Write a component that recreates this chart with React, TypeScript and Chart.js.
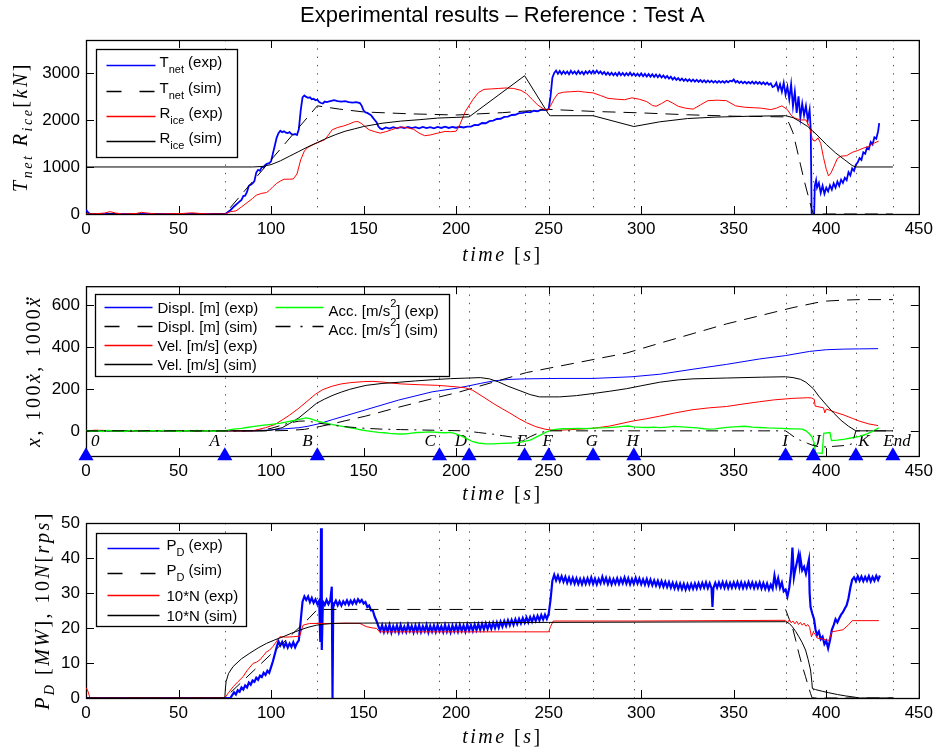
import React, { useEffect, useRef } from 'react';
import { Chart, registerables } from 'chart.js';
Chart.register(...registerables);

// ---------- shared ----------
const eventTimes = [0, 75, 125, 191, 207, 237, 250, 274, 296, 378, 393, 416, 436];
const eventNames = ['0', 'A', 'B', 'C', 'D', 'E', 'F', 'G', 'H', 'I', 'J', 'K', 'End'];
const eventLabelTimes = [5, 69.6, 119.7, 186, 202.5, 235.6, 249.5, 273.4, 295.3, 377.7, 395, 420.4, 438.2];
const eventLabelLevel = -51;
const markerLevel = -120;
const xTicks = [0, 50, 100, 150, 200, 250, 300, 350, 400, 450];
const yTicks1 = [0, 1000, 2000, 3000];
const yTicks2 = [0, 200, 400, 600];
const yTicks3 = [0, 10, 20, 30, 40, 50];

// ---------- panel 1 : T_net, R_ice [kN] ----------
const tnetExp = [
  [0, 90], [1, 40], [2, 5], [3, 0], [75, 0], [76, 20], [78, 80], [80, 160], [82, 230], [84, 300], [85, 380], [86, 390], [87, 470], [88, 600], [89, 620], [90, 650],
  [91, 700], [92, 880], [93, 940], [94, 920], [95, 1000], [96, 990], [97, 1050], [98, 1070], [99, 1080], [100, 1120], [101, 1290], [102, 1450], [103, 1620], [104, 1720],
  [105, 1770], [106, 1740], [107, 1760], [108, 1730], [109, 1720], [110, 1740], [111, 1700], [112, 1690], [113, 1700], [114, 1680], [115, 1800], [116, 2200], [117, 2480],
  [118, 2520], [119, 2490], [120, 2470], [121, 2480], [122, 2440], [123, 2450], [124, 2420], [125, 2430], [126, 2380], [127, 2360], [128, 2350], [129, 2390], [130, 2380],
  [132, 2400], [134, 2420], [136, 2400], [138, 2390], [140, 2400], [142, 2380], [144, 2370], [146, 2380], [148, 2360], [149, 2300], [150, 2200], [151, 2160], [152, 2150],
  [154, 2100], [155, 2050], [156, 2000], [157, 1950], [158, 1860], [159, 1820], [160, 1800], [162, 1840], [164, 1815], [166, 1845], [168, 1820], [170, 1845], [172, 1825],
  [174, 1850], [176, 1825], [178, 1845], [180, 1820], [182, 1850], [184, 1825], [186, 1845], [188, 1820], [190, 1850], [192, 1830], [194, 1855], [196, 1830], [198, 1850],
  [200, 1835], [202, 1855], [204, 1840], [206, 1860], [208, 1860], [210, 1895], [212, 1890], [214, 1935], [216, 1930], [218, 1975], [220, 1985], [222, 2020], [224, 2025],
  [226, 2065], [228, 2070], [230, 2105], [232, 2110], [234, 2145], [236, 2150], [238, 2170], [240, 2160], [242, 2195], [244, 2185], [246, 2220], [248, 2210], [250, 2230],
  [251, 2500], [252, 2900], [253, 3000], [254, 3050], [255, 2980], [256, 3040], [257, 2975], [258, 3035], [259, 2980], [260, 3030], [261, 2970], [262, 3045], [263, 2985],
  [264, 3030], [265, 2975], [266, 3040], [267, 2980], [268, 3025], [269, 2970], [270, 3035], [271, 2985], [272, 3040], [273, 2990], [274, 3045], [275, 2995], [276, 3050],
  [277, 2990], [278, 3030], [279, 2975], [280, 3020], [281, 2960], [282, 3010], [283, 2955], [284, 3005], [285, 2950], [286, 3000], [287, 2945], [288, 3010], [289, 2950],
  [290, 3000], [291, 2945], [292, 2995], [293, 2950], [294, 3005], [295, 2945], [296, 2990], [297, 2940], [298, 2985], [299, 2935], [300, 2990], [301, 2930], [302, 2980],
  [303, 2925], [304, 2975], [305, 2920], [306, 2970], [307, 2915], [308, 2965], [309, 2910], [310, 2960], [311, 2900], [312, 2945], [313, 2890], [314, 2935], [315, 2880],
  [316, 2920], [317, 2860], [318, 2905], [319, 2850], [320, 2890], [321, 2840], [322, 2880], [323, 2830], [324, 2870], [325, 2825], [326, 2865], [327, 2820], [328, 2860],
  [329, 2815], [330, 2855], [331, 2810], [332, 2850], [333, 2805], [334, 2845], [335, 2800], [336, 2840], [337, 2800], [338, 2835], [339, 2795], [340, 2830], [341, 2790],
  [342, 2830], [343, 2795], [344, 2825], [345, 2790], [346, 2830], [347, 2800], [348, 2835], [349, 2820], [350, 2860], [351, 2800], [352, 2830], [353, 2785], [354, 2820],
  [355, 2780], [356, 2815], [357, 2775], [358, 2810], [359, 2775], [360, 2815], [361, 2770], [362, 2810], [363, 2770], [364, 2805], [365, 2760], [366, 2800], [367, 2755],
  [368, 2795], [369, 2750], [370, 2780], [371, 2700], [372, 2720], [373, 2790], [374, 2640], [375, 2760], [376, 2600], [377, 2790], [378, 2540], [379, 2710], [380, 2440],
  [381, 2760], [382, 2290], [383, 2600], [384, 2150], [385, 2500], [386, 2050], [387, 2350], [388, 2100], [389, 2300], [390, 2000], [391, 2220], [391.6, 1800], [392.2, -400],
  [393.2, -400], [393.8, 600], [394.5, 720], [395, 560], [396, 660], [397, 450], [398, 600], [399, 430], [400, 560], [401, 480], [402, 610], [403, 520], [404, 650], [405, 560],
  [406, 690], [407, 600], [408, 730], [409, 660], [410, 770], [411, 720], [412, 890], [413, 820], [414, 970], [415, 920], [416, 1050], [417, 1100], [418, 1190], [419, 1150],
  [420, 1310], [421, 1280], [422, 1410], [423, 1380], [424, 1530], [425, 1480], [426, 1630], [427, 1600], [428, 1760], [428.6, 1930],
];
const tnetSim = [
  [0, 0], [75, 0], [125, 2300], [137, 2230], [150, 2170], [175, 2130], [200, 2105], [225, 2155], [250, 2225], [275, 2180], [300, 2150], [325, 2110], [350, 2080],
  [378, 2065], [380, 1920], [382, 1730], [384, 1400], [386, 1060], [388, 720], [390, 420], [392, 120], [393, 0], [436, 0],
];
const riceExp = [
  [0, 0], [5, 5], [10, 20], [13, 50], [16, 20], [20, 0], [27, 10], [30, 35], [33, 20], [38, 0], [45, 5], [52, 10], [57, 25], [62, 10], [68, 0], [75, 0], [78, 50], [81, 65],
  [84, 150], [87, 240], [90, 330], [92, 400], [95, 440], [97.5, 455], [99, 500], [101, 580], [103, 650], [105, 700], [107, 740], [110, 740], [112, 745], [114, 850],
  [116, 1150], [118, 1340], [120, 1420], [123, 1480], [126, 1530], [129, 1580], [131, 1680], [133, 1790], [136, 1840], [139, 1870], [142, 1910], [145, 1960], [147, 1965],
  [149, 1920], [151, 1850], [153, 1790], [156, 1750], [159, 1720], [162, 1750], [165, 1790], [168, 1830], [171, 1850], [174, 1830], [177, 1800], [180, 1720], [183, 1665],
  [186, 1680], [190, 1720], [194, 1755], [197, 1750], [200, 1760], [202, 1900], [205, 2180], [209, 2430], [212, 2580], [215, 2650], [219, 2660], [223, 2670], [227, 2680],
  [231, 2670], [235, 2630], [238, 2560], [241, 2440], [244, 2320], [247, 2240], [249.5, 2200], [251, 2300], [253, 2450], [255, 2560], [258, 2590], [262, 2600], [266, 2610],
  [270, 2590], [274, 2575], [278, 2520], [282, 2460], [287, 2440], [291, 2430], [295, 2470], [299, 2440], [303, 2390], [306, 2310], [308, 2290], [311, 2350], [314, 2420],
  [317, 2360], [320, 2290], [324, 2250], [328, 2230], [332, 2320], [336, 2410], [341, 2420], [346, 2410], [351, 2300], [356, 2270], [361, 2260], [365, 2250], [370, 2220],
  [373, 2250], [376, 2300], [379, 2220], [381, 2100], [383, 2040], [386, 2000], [389, 2000], [391, 1850], [392.5, 1580], [394, 1550], [395.5, 1620], [397, 1500],
  [398.5, 1200], [400, 950], [401.2, 810], [402.5, 870], [404, 1000], [406, 1180], [408, 1230], [411, 1240], [414, 1310], [417, 1350], [420, 1400], [423, 1440],
  [426, 1510], [428.3, 1550],
];
const riceSim = [
  [0, 1000], [90, 1000], [95, 1010], [100, 1050], [105, 1130], [110, 1230], [115, 1330], [120, 1430], [125, 1520], [130, 1610], [135, 1690], [140, 1760], [145, 1810],
  [150, 1860], [160, 1930], [170, 1975], [180, 2005], [190, 2040], [200, 2055], [207, 2065], [237, 2940], [250, 2120], [251, 2090], [274, 2090], [296, 1860], [310, 1960],
  [325, 2030], [340, 2060], [360, 2080], [378, 2090], [382, 2050], [386, 1960], [390, 1860], [395, 1680], [400, 1480], [405, 1300], [410, 1150], [414, 1030], [416, 1000],
  [436, 1000],
];

// ---------- panel 2 : x, 100 xdot, 1000 xddot ----------
const displExp = [
  [0, 0], [90, 0], [97, 3], [105, 8], [115, 15], [120, 22], [126, 34], [133, 53], [151, 100], [169, 147], [187, 186], [200, 203], [207, 215], [213, 226], [220, 238],
  [228, 245], [237, 248], [255, 250], [274, 250], [295, 258], [310, 270], [328, 294], [346, 317], [364, 343], [378, 359], [391, 379], [400, 387], [410, 390], [418, 391],
  [428, 392],
];
const displSim = [
  [0, 0], [100, 0], [110, 2], [118, 7], [126, 20], [133, 33], [140, 48], [151, 70], [169, 113], [187, 153], [202, 186], [220, 232], [238, 278], [256, 309], [274, 340],
  [292, 371], [310, 418], [328, 464], [346, 510], [364, 549], [382, 588], [395, 612], [400, 619], [410, 624], [418, 626], [436, 626],
];
const velExp = [
  [0, 0], [5, 3], [10, 2], [15, 0], [90, 0], [97, 15], [102, 30], [106, 52], [110, 75], [115, 108], [120, 145], [124, 175], [128, 197], [133, 213], [138, 224], [143, 230],
  [150, 235], [155, 236], [160, 233], [165, 228], [170, 224], [180, 220], [190, 217], [200, 210], [205, 205], [209, 193], [215, 160], [220, 131], [225, 105], [229, 85],
  [234, 58], [238, 39], [243, 20], [248, 8], [252, 3], [256, 3], [265, 7], [274, 12], [283, 23], [295, 46], [303, 58], [310, 70], [318, 85], [328, 101], [337, 110],
  [346, 116], [355, 128], [364, 139], [372, 148], [382, 155], [390, 158], [392, 157], [393.5, 150], [394, 118], [398.5, 110], [399.2, 86], [400, 104], [402, 98],
  [405, 88], [409, 77], [414, 60], [418, 46], [423, 33], [428, 25],
];
const velSim = [
  [0, 0], [95, 0], [100, 3], [106, 15], [110, 35], [115, 62], [120, 98], [124.5, 131], [129, 152], [133.5, 170], [138, 185], [142.5, 198], [147, 208], [151.4, 217],
  [160, 226], [169.4, 232], [178, 238], [187.4, 244], [197, 249], [207, 252], [213, 254], [218, 248], [223, 233], [228, 213], [234, 193], [240, 173], [245, 162],
  [256, 162], [265, 168], [274, 178], [283, 189], [292, 201], [300, 215], [310, 232], [320, 243], [328, 248], [346, 252], [365, 256], [378, 258], [382, 254], [386, 246],
  [389, 232], [393, 201], [396, 165], [400, 124], [404, 85], [408, 50], [412, 22], [416, 0], [436, 0],
];
const accExp = [
  [0, 2], [3, -2], [6, 1], [9, -3], [12, 2], [15, -2], [18, 0], [21, -3], [24, 2], [27, -1], [30, 1], [33, -3], [36, 1], [39, -2], [42, 2], [45, -1], [48, 0], [51, -3],
  [54, 1], [57, -2], [60, 2], [63, -1], [66, 1], [69, -2], [72, 1], [75, 0], [78, 6], [81, 9], [84, 12], [87, 16], [90, 20], [93, 24], [96, 27], [99, 30], [102, 33],
  [105, 37], [108, 42], [111, 47], [114, 52], [117, 58], [119, 62], [121, 58], [123, 52], [125, 46], [128, 40], [131, 34], [134, 29], [137, 24], [140, 19], [143, 14],
  [146, 9], [149, 4], [152, 0], [155, -4], [158, -7], [161, -9], [164, -12], [167, -14], [170, -15], [173, -14], [176, -11], [179, -8], [182, -7], [185, -5], [188, -6],
  [191, -8], [194, -9], [197, -7], [200, -15], [203, -25], [206, -38], [209, -52], [212, -58], [216, -62], [220, -62], [225, -60], [230, -58], [235, -54], [240, -44],
  [243, -31], [246, -18], [249, -5], [252, 4], [255, 8], [258, 10], [262, 11], [266, 12], [270, 11], [274, 13], [278, 14], [282, 15], [286, 18], [290, 21], [293, 23],
  [296, 19], [300, 17], [304, 16], [307, 18], [310, 15], [314, 18], [318, 21], [322, 19], [326, 17], [330, 14], [334, 10], [337, 8], [340, 9], [344, 14], [348, 18],
  [352, 20], [356, 22], [360, 18], [364, 16], [368, 14], [372, 13], [376, 12], [380, 10], [384, 9], [387, 8], [389, 0], [391, -15], [392.4, -31], [393.5, -60],
  [394.2, -105], [397, -106], [397.8, -108], [398.6, -12], [402, -8], [402.8, -46], [406, -44], [410, -39], [414, -33], [418, -26], [422, -14], [426, 2], [428.4, 15],
];
const accSim = [
  [0, 0], [90, 0], [95, 3], [100, 12], [105, 25], [110, 38], [115, 46], [118, 47], [122, 43], [126, 37], [130, 31], [135, 25], [140, 20], [145, 16], [151, 12], [160, 8],
  [170, 6], [187, 3], [205, 0], [212, -8], [220, -16], [225, -23], [232, -32], [237.5, -40], [240, -28], [244, -12], [248, -3], [250, 0], [378, 0], [380, -12],
  [384, -38], [386, -45], [390, -60], [393, -70], [396, -76], [400, -77], [404, -74], [410, -70], [414, -62], [416, 0], [436, 0],
];

// ---------- panel 3 : P_D [MW], 10N [rps] ----------
const pdExp = [
  [0, 0], [78, 0], [79, 0.8], [80, 1.6], [81, 1.0], [82, 2.2], [83, 1.8], [84, 3.0], [85, 2.4], [86, 3.6], [87, 3.0], [88, 4.4], [89, 3.8], [90, 5.0], [91, 4.6], [92, 5.8],
  [93, 5.2], [94, 6.4], [95, 6.0], [96, 7.2], [97, 6.6], [98, 7.8], [99, 7.2], [100, 8.8], [101, 10.5], [102, 12.5], [103, 14.5], [104, 16.2], [105, 15.0], [106, 16.0],
  [107, 14.6], [108, 15.8], [109, 14.4], [110, 15.6], [111, 14.6], [112, 15.9], [113, 14.5], [114, 15.7], [115, 16.5], [116, 22.0], [117, 27.5], [118, 29.0], [119, 28.0],
  [120, 29.0], [121, 27.4], [122, 28.6], [123, 27.2], [124, 28.2], [125, 26.8], [126, 27.8], [126.6, 16], [127, 48.5], [127.4, 13.7], [128, 27.5], [129, 26.6], [130, 28.0],
  [131, 26.8], [132, 27.9], [132.8, 31.8], [133.2, 0], [133.6, 27], [134, 26.8], [135, 27.8], [136, 26.5], [137, 27.6], [138, 26.4], [139, 27.6], [140, 26.8], [141, 27.9],
  [142, 26.7], [143, 27.8], [144, 26.9], [145, 28.0], [146, 27.0], [147, 28.2], [148, 27.4], [149, 28.0], [150, 27.0], [151, 27.4], [152, 26.0], [153, 26.4], [154, 25.0],
  [155, 25.0], [156, 23.2], [157, 22.0], [158, 20.5], [159, 19.2], [160, 20.8], [161, 18.9], [162, 20.6], [163, 19.0], [164, 20.9], [165, 18.7], [166, 20.5], [167, 19.1],
  [168, 20.7], [169, 18.8], [170, 20.8], [171, 19.0], [172, 20.4], [173, 18.9], [174, 20.9], [175, 19.2], [176, 20.6], [177, 18.8], [178, 20.7], [179, 19.0], [180, 20.8],
  [181, 18.9], [182, 20.5], [183, 19.1], [184, 20.9], [185, 18.8], [186, 20.6], [187, 19.0], [188, 20.7], [189, 18.9], [190, 20.8], [191, 19.1], [192, 20.5], [193, 18.9],
  [194, 20.9], [195, 19.0], [196, 20.6], [197, 18.8], [198, 20.7], [199, 19.1], [200, 20.8], [201, 19.0], [202, 20.9], [203, 19.2], [204, 20.7], [205, 19.0], [206, 21.0],
  [207, 19.3], [208, 20.8], [209, 19.2], [210, 21.0], [211, 19.4], [212, 21.1], [213, 19.5], [214, 21.2], [215, 19.6], [216, 21.3], [217, 19.7], [218, 21.3], [219, 19.8],
  [220, 21.5], [221, 20.0], [222, 21.6], [223, 20.1], [224, 21.8], [225, 20.4], [226, 22.0], [227, 20.6], [228, 22.2], [229, 20.8], [230, 22.3], [231, 20.9], [232, 22.5],
  [233, 21.1], [234, 22.6], [235, 21.3], [236, 22.8], [237, 21.5], [238, 23.0], [239, 21.6], [240, 23.1], [241, 21.8], [242, 23.3], [243, 22.0], [244, 23.5], [245, 22.2],
  [246, 23.7], [247, 22.4], [248, 23.8], [249, 22.6], [250, 24.0], [251, 28.0], [252, 33.5], [253, 35.2], [254, 33.6], [255, 35.0], [256, 33.4], [257, 34.8], [258, 33.2],
  [259, 34.6], [260, 32.9], [261, 34.4], [262, 32.8], [263, 34.3], [264, 32.7], [265, 34.2], [266, 32.6], [267, 34.0], [268, 32.5], [269, 34.1], [270, 32.6], [271, 34.2],
  [272, 32.7], [273, 34.4], [274, 32.6], [275, 34.1], [276, 32.5], [277, 34.0], [278, 32.8], [279, 34.6], [280, 32.9], [281, 34.3], [282, 32.6], [283, 34.1], [284, 32.5],
  [285, 34.0], [286, 32.7], [287, 34.2], [288, 32.6], [289, 34.1], [290, 32.8], [291, 34.4], [292, 32.7], [293, 34.2], [294, 32.5], [295, 34.0], [296, 32.6], [297, 34.3],
  [298, 32.7], [299, 34.1], [300, 32.5], [301, 33.9], [302, 32.4], [303, 34.0], [304, 32.3], [305, 33.8], [306, 32.2], [307, 33.6], [308, 32.1], [309, 33.5], [310, 31.9],
  [311, 33.4], [312, 31.8], [313, 33.2], [314, 31.7], [315, 33.1], [316, 31.5], [317, 32.9], [318, 31.3], [319, 32.8], [320, 31.2], [321, 32.7], [322, 31.1], [323, 32.6],
  [324, 31.0], [325, 32.5], [326, 31.1], [327, 32.6], [328, 31.2], [329, 32.7], [330, 31.3], [331, 32.8], [332, 31.4], [333, 32.9], [334, 31.5], [335, 33.0], [336, 31.4],
  [337, 32.8], [338, 31.3], [338.5, 26.0], [339, 31.4], [340, 32.9], [341, 31.5], [342, 33.0], [343, 31.6], [344, 33.1], [345, 31.5], [346, 33.0], [347, 31.4], [348, 32.9],
  [349, 31.5], [350, 33.0], [351, 31.6], [352, 33.1], [353, 31.5], [354, 33.0], [355, 31.4], [356, 32.9], [357, 31.5], [358, 33.1], [359, 31.6], [360, 33.0], [361, 31.4],
  [362, 32.9], [363, 31.5], [364, 33.0], [365, 31.3], [366, 32.8], [367, 31.2], [368, 32.7], [369, 31.0], [370, 32.4], [371, 31.2], [372, 35.0], [373, 32.0], [374, 34.2],
  [375, 31.5], [376, 33.0], [377, 30.5], [378, 31.0], [379, 29.0], [380, 31.5], [381, 36.0], [381.7, 43.0], [382.5, 34.5], [383, 36.0], [384, 38.5], [385, 41.0],
  [385.6, 38.0], [386, 40.0], [387, 36.5], [388, 37.5], [389, 35.5], [390, 38.0], [390.6, 39.5], [391, 30.0], [391.5, 26.0], [392.5, 24.0], [393.4, 22.5], [394.2, 19.5],
  [395, 18.0], [396, 19.0], [397, 16.8], [398, 17.5], [399, 15.4], [400, 16.3], [401, 14.2], [402, 16.5], [403, 19.5], [404, 20.8], [405, 22.5], [406, 21.6], [407, 22.8],
  [408, 23.8], [409, 24.5], [410, 25.6], [411, 26.5], [412, 28.5], [413, 31.5], [414, 33.8], [415, 34.5], [416, 33.4], [417, 34.8], [418, 33.5], [419, 34.7], [420, 33.4],
  [421, 34.6], [422, 33.5], [423, 34.8], [424, 33.3], [425, 34.6], [426, 33.5], [427, 34.9], [428, 33.7], [429, 35.0],
];
const pdSim = [
  [0, 0], [75, 0], [120.5, 22.8], [125, 25.3], [378, 25.3], [380, 22.5], [381.6, 20.4], [383.5, 16.5], [385.2, 12.7], [387, 9.2], [388.8, 6.1], [390.2, 3.5],
  [391.5, 1.3], [392.4, 0], [436, 0],
];
const nExp = [
  [0, 3.0], [1, 2.0], [2, 0.3], [2.5, 0], [75, 0], [77, 1.5], [79.5, 3.2], [82, 4.6], [84.9, 6.1], [87, 7.8], [90.3, 9.9], [92, 10.2], [94, 10.9], [96, 12.2], [97.5, 13.2],
  [99, 13.6], [101, 14.7], [103, 16.2], [104.7, 17.5], [108, 17.4], [112, 17.5], [115.5, 17.7], [116.5, 19.5], [117.3, 20.8], [120.8, 21.3], [133.5, 21.3], [140, 21.4],
  [148, 21.3], [151.4, 20.4], [155, 20.0], [157, 19.9], [158.6, 18.9], [250, 18.9], [251, 20.4], [252.5, 22.0], [300, 22.0], [378, 22.2], [379, 21.6], [380, 22.3],
  [381, 21.5], [382, 22.0], [383, 21.2], [384, 21.9], [385, 21.0], [386, 21.6], [387, 20.8], [388, 21.4], [389, 20.5], [390, 21.0], [391, 20.2], [392, 17.5], [393, 18.8],
  [394, 18.2], [395, 17.2], [396, 17.0], [398, 16.9], [400, 16.6], [401.5, 16.5], [403, 18.9], [406, 19.2], [409, 19.5], [412, 20.9], [414, 22.1], [428.4, 22.1],
];
const nSim = [
  [0, 0], [75, 0], [75.3, 2.5], [75.7, 4.7], [77, 7.0], [79.5, 9.0], [84, 11.2], [88.5, 12.8], [93, 14.3], [97.5, 15.6], [102, 16.6], [106.5, 17.5], [111, 18.5],
  [115.5, 19.4], [120, 20.2], [124.5, 20.8], [129, 21.1], [133.5, 21.3], [150, 21.4], [200, 21.5], [250, 21.6], [378, 21.8], [380, 21.3], [381.6, 20.4], [383.5, 19.0],
  [385.2, 17.5], [387, 15.8], [388.8, 13.7], [390.2, 11.0], [391.5, 8.0], [392.2, 4.5], [392.5, 2.7], [394.2, 2.4], [398, 1.9], [401.4, 1.5], [406, 1.0], [410.4, 0.6],
  [415.8, 0.2], [418, 0], [436, 0],
];

// ---------- drawing helpers ----------
const SANS = '"Liberation Sans", Arial, Helvetica, sans-serif';
const SERIF = '"Liberation Serif", "Times New Roman", serif';
const BLUE = '#0000ff';
const RED = '#ff0000';
const GREEN = '#00ff00';
const BLACK = '#000000';

type Seg = { t: string; k?: 'sub' | 'sup'; up?: boolean; dots?: number };
type RichStyle = { size: number; subSize: number; family: string; italic: boolean; subDy: number; supDy: number; spacing: number };

const mathStyle: RichStyle = { size: 20, subSize: 14, family: SERIF, italic: true, subDy: 5, supDy: -8, spacing: 2.5 };
const legendStyle: RichStyle = { size: 15, subSize: 11, family: SANS, italic: false, subDy: 6.5, supDy: -9, spacing: 0 };

function segFont(s: Seg, st: RichStyle) {
  const it = st.italic && !s.up ? 'italic ' : '';
  return `${it}${s.k ? st.subSize : st.size}px ${st.family}`;
}

function drawRich(ctx: any, segs: Seg[], x: number, y: number, st: RichStyle, align: 'left' | 'center') {
  ctx.letterSpacing = `${st.spacing}px`;
  const ws = segs.map((s) => {
    ctx.font = segFont(s, st);
    return ctx.measureText(s.t).width;
  });
  const total = ws.reduce((a, b) => a + b, 0);
  let cx = align === 'center' ? x - total / 2 : x;
  ctx.textAlign = 'left';
  ctx.textBaseline = 'alphabetic';
  segs.forEach((s, i) => {
    ctx.font = segFont(s, st);
    const dy = s.k === 'sub' ? st.subDy : s.k === 'sup' ? st.supDy : 0;
    ctx.fillText(s.t, cx, y + dy);
    if (s.dots) {
      const mid = cx + (ws[i] - st.spacing) / 2 + 1.5;
      const dotY = y - st.size * 0.62;
      for (let d = 0; d < s.dots; d++) {
        const off = s.dots === 1 ? 0 : (d - 0.5) * 4.5;
        ctx.beginPath();
        ctx.arc(mid + off, dotY, 1.3, 0, Math.PI * 2);
        ctx.fill();
      }
    }
    cx += ws[i];
  });
  ctx.letterSpacing = '0px';
}

type LegendItem = { segs: Seg[]; color: string; dash: number[]; lx0: number; lx1: number; tx: number; ly: number };
type LegendCfg = { x: number; y: number; w: number; h: number; items: LegendItem[] };

type PanelCfg = {
  top: number; height: number; padTop: number; xH: number; ymin: number; ymax: number; yTicks: number[];
  datasets: () => any[]; legend: LegendCfg; yTitle: Seg[]; yTitleBase: number; xTitleBase: number;
  title?: string; events?: boolean;
};

const pts = (a: number[][]) => a.map(([x, y]) => ({ x, y }));
function line(label: string, data: number[][], color: string, order: number, dash: number[] = [], width = 1) {
  return {
    label, data: pts(data), borderColor: color, backgroundColor: color, borderWidth: width, borderDash: dash,
    pointRadius: 0, pointHoverRadius: 0, fill: false, tension: 0, order,
  };
}

const DASH = [13, 8];
const DASHDOT = [12, 6, 2, 6];
const xTitle: Seg[] = [{ t: 'time' }, { t: ' [', up: true }, { t: 's' }, { t: ']', up: true }];

function decoPlugin(cfg: PanelCfg) {
  return {
    id: 'deco',
    beforeDatasetsDraw(chart: any) {
      const { ctx, chartArea: a, scales } = chart;
      const x = scales.x, y = scales.y;
      ctx.save();
      // event dotted lines
      ctx.strokeStyle = '#555';
      ctx.lineWidth = 1;
      ctx.setLineDash([1.4, 6.9]);
      eventTimes.forEach((t) => {
        const px = Math.round(x.getPixelForValue(t)) + 0.5;
        ctx.beginPath();
        ctx.moveTo(px, a.top);
        ctx.lineTo(px, a.bottom);
        ctx.stroke();
      });
      ctx.setLineDash([]);
      // frame
      ctx.strokeStyle = '#000';
      ctx.lineWidth = 1.3;
      ctx.strokeRect(a.left + 0.5, a.top + 0.5, a.right - a.left, a.bottom - a.top);
      // inward ticks
      ctx.lineWidth = 1;
      const TL = 8;
      xTicks.forEach((v) => {
        const px = Math.round(x.getPixelForValue(v)) + 0.5;
        ctx.beginPath();
        ctx.moveTo(px, a.bottom); ctx.lineTo(px, a.bottom - TL);
        ctx.moveTo(px, a.top); ctx.lineTo(px, a.top + TL);
        ctx.stroke();
      });
      cfg.yTicks.forEach((v) => {
        const py = Math.round(y.getPixelForValue(v)) + 0.5;
        ctx.beginPath();
        ctx.moveTo(a.left, py); ctx.lineTo(a.left + TL, py);
        ctx.moveTo(a.right, py); ctx.lineTo(a.right - TL, py);
        ctx.stroke();
      });
      // event labels
      if (cfg.events) {
        ctx.fillStyle = '#000';
        ctx.font = `italic 17px ${SERIF}`;
        ctx.textAlign = 'center';
        ctx.textBaseline = 'middle';
        eventNames.forEach((n, i) => {
          ctx.fillText(n, x.getPixelForValue(eventLabelTimes[i]), y.getPixelForValue(eventLabelLevel));
        });
      }
      ctx.restore();
    },
    afterDatasetsDraw(chart: any) {
      const { ctx, chartArea: a } = chart;
      const L = cfg.legend;
      ctx.save();
      const bx = Math.round(a.left + L.x) + 0.5, by = Math.round(a.top + L.y) + 0.5;
      ctx.fillStyle = '#fff';
      ctx.fillRect(bx, by, L.w, L.h);
      ctx.strokeStyle = '#000';
      ctx.lineWidth = 1.3;
      ctx.strokeRect(bx, by, L.w, L.h);
      L.items.forEach((it) => {
        ctx.strokeStyle = it.color;
        ctx.lineWidth = 1.3;
        ctx.setLineDash(it.dash);
        ctx.beginPath();
        ctx.moveTo(bx + it.lx0, by + it.ly);
        ctx.lineTo(bx + it.lx1, by + it.ly);
        ctx.stroke();
        ctx.setLineDash([]);
        ctx.fillStyle = '#000';
        const hasSub = it.segs.some((s) => s.k === 'sub');
        const hasSup = it.segs.some((s) => s.k === 'sup');
        const base = by + it.ly + (hasSub ? 1 : hasSup ? 8 : 5.5);
        drawRich(ctx, it.segs, bx + it.tx, base, legendStyle, 'left');
      });
      ctx.restore();
    },
    afterDraw(chart: any) {
      const { ctx, chartArea: a } = chart;
      ctx.save();
      ctx.fillStyle = '#000';
      const cx = (a.left + a.right) / 2;
      drawRich(ctx, xTitle, cx, a.bottom + cfg.xTitleBase, mathStyle, 'center');
      ctx.translate(cfg.yTitleBase, (a.top + a.bottom) / 2);
      ctx.rotate(-Math.PI / 2);
      drawRich(ctx, cfg.yTitle, 0, 0, mathStyle, 'center');
      ctx.restore();
      if (cfg.title) {
        ctx.save();
        ctx.fillStyle = '#000';
        ctx.font = `22px ${SANS}`;
        ctx.textAlign = 'center';
        ctx.textBaseline = 'middle';
        ctx.fillText(cfg.title, cx, 16);
        ctx.restore();
      }
    },
  };
}

function buildOptions(cfg: PanelCfg) {
  const tickFont = { family: SANS, size: 17 };
  return {
    responsive: false,
    maintainAspectRatio: false,
    animation: false,
    devicePixelRatio: 1,
    events: [],
    layout: { padding: { top: cfg.padTop, right: 18, left: 0, bottom: 0 } },
    plugins: { legend: { display: false }, tooltip: { enabled: false }, title: { display: false } },
    scales: {
      x: {
        type: 'linear', min: 0, max: 450,
        grid: { display: false, drawTicks: false }, border: { display: false },
        afterBuildTicks: (s: any) => { s.ticks = xTicks.map((v) => ({ value: v })); },
        afterFit: (s: any) => { s.height = cfg.xH; },
        ticks: { font: tickFont, color: '#000', padding: 5, maxRotation: 0, autoSkip: false, callback: (v: any) => String(v) },
      },
      y: {
        type: 'linear', min: cfg.ymin, max: cfg.ymax,
        grid: { display: false, drawTicks: false }, border: { display: false },
        afterBuildTicks: (s: any) => { s.ticks = cfg.yTicks.map((v) => ({ value: v })); },
        afterFit: (s: any) => { s.width = 86; },
        ticks: { font: tickFont, color: '#000', padding: 6, autoSkip: false, callback: (v: any) => String(v) },
      },
    },
  };
}

// ---------- panels ----------
const panel1: PanelCfg = {
  top: 0, height: 270, padTop: 40, xH: 56, ymin: 0, ymax: 3700, yTicks: yTicks1,
  title: 'Experimental results \u2013 Reference : Test A',
  datasets: () => [
    line('T_net (exp)', tnetExp, BLUE, 0, [], 1.8),
    line('T_net (sim)', tnetSim, BLACK, -1, DASH),
    line('R_ice (exp)', riceExp, RED, -2),
    line('R_ice (sim)', riceSim, BLACK, -3),
  ],
  legend: {
    x: 10, y: 9, w: 141, h: 108,
    items: [
      { segs: [{ t: 'T' }, { t: 'net', k: 'sub' }, { t: ' (exp)' }], color: BLUE, dash: [], lx0: 10, lx1: 59, tx: 63, ly: 16 },
      { segs: [{ t: 'T' }, { t: 'net', k: 'sub' }, { t: ' (sim)' }], color: BLACK, dash: [15, 18], lx0: 10, lx1: 59, tx: 63, ly: 42 },
      { segs: [{ t: 'R' }, { t: 'ice', k: 'sub' }, { t: ' (exp)' }], color: RED, dash: [], lx0: 10, lx1: 59, tx: 63, ly: 67 },
      { segs: [{ t: 'R' }, { t: 'ice', k: 'sub' }, { t: ' (sim)' }], color: BLACK, dash: [], lx0: 10, lx1: 59, tx: 63, ly: 92 },
    ],
  },
  yTitle: [{ t: 'T' }, { t: 'net', k: 'sub' }, { t: ' ' }, { t: 'R' }, { t: 'ice', k: 'sub' }, { t: '[', up: true }, { t: 'kN' }, { t: ']', up: true }],
  yTitleBase: 27, xTitleBase: 47,
};

const panel2: PanelCfg = {
  top: 270, height: 235, padTop: 11.5, xH: 49, ymin: -120, ymax: 690, yTicks: yTicks2, events: true,
  datasets: () => [
    line('Displ. [m] (exp)', displExp, BLUE, 0),
    line('Displ. [m] (sim)', displSim, BLACK, -1, DASH),
    line('Vel. [m/s] (exp)', velExp, RED, -2),
    line('Vel. [m/s] (sim)', velSim, BLACK, -3),
    line('Acc. [m/s2] (exp)', accExp, GREEN, -4, [], 1.3),
    line('Acc. [m/s2] (sim)', accSim, BLACK, -5, DASHDOT),
    {
      label: 'events', data: eventTimes.map((t) => ({ x: t, y: markerLevel })), showLine: false,
      pointStyle: 'triangle', pointRadius: 8.7, pointHoverRadius: 8.7, backgroundColor: BLUE, borderColor: BLUE, borderWidth: 0,
      clip: false, order: -10,
    },
  ],
  legend: {
    x: 9, y: 7.5, w: 354, h: 82,
    items: [
      { segs: [{ t: 'Displ. [m] (exp)' }], color: BLUE, dash: [], lx0: 9, lx1: 57, tx: 62, ly: 13 },
      { segs: [{ t: 'Displ. [m] (sim)' }], color: BLACK, dash: [15, 18], lx0: 9, lx1: 57, tx: 62, ly: 32 },
      { segs: [{ t: 'Vel. [m/s] (exp)' }], color: RED, dash: [], lx0: 9, lx1: 57, tx: 62, ly: 51 },
      { segs: [{ t: 'Vel. [m/s] (sim)' }], color: BLACK, dash: [], lx0: 9, lx1: 57, tx: 62, ly: 70 },
      { segs: [{ t: 'Acc. [m/s' }, { t: '2', k: 'sup' }, { t: '] (exp)' }], color: GREEN, dash: [], lx0: 180, lx1: 228, tx: 233, ly: 13 },
      { segs: [{ t: 'Acc. [m/s' }, { t: '2', k: 'sup' }, { t: '] (sim)' }], color: BLACK, dash: [15, 10, 2, 10], lx0: 180, lx1: 228, tx: 233, ly: 32 },
    ],
  },
  yTitle: [{ t: 'x' }, { t: ', ', up: true }, { t: '100', up: true }, { t: 'x', dots: 1 }, { t: ', ', up: true }, { t: '1000', up: true }, { t: 'x', dots: 2 }],
  yTitleBase: 40, xTitleBase: 44,
};

const panel3: PanelCfg = {
  top: 505, height: 244, padTop: 18, xH: 51, ymin: 0, ymax: 50, yTicks: yTicks3,
  datasets: () => [
    line('P_D (exp)', pdExp, BLUE, 0, [], 2.2),
    line('P_D (sim)', pdSim, BLACK, -1, DASH),
    line('10*N (exp)', nExp, RED, -2),
    line('10*N (sim)', nSim, BLACK, -3),
  ],
  legend: {
    x: 10, y: 10, w: 150, h: 93,
    items: [
      { segs: [{ t: 'P' }, { t: 'D', k: 'sub' }, { t: ' (exp)' }], color: BLUE, dash: [], lx0: 11, lx1: 63, tx: 70, ly: 15 },
      { segs: [{ t: 'P' }, { t: 'D', k: 'sub' }, { t: ' (sim)' }], color: BLACK, dash: [15, 18], lx0: 11, lx1: 63, tx: 70, ly: 40 },
      { segs: [{ t: '10*N (exp)' }], color: RED, dash: [], lx0: 11, lx1: 63, tx: 70, ly: 62 },
      { segs: [{ t: '10*N (sim)' }], color: BLACK, dash: [], lx0: 11, lx1: 63, tx: 70, ly: 82 },
    ],
  },
  yTitle: [{ t: 'P' }, { t: 'D', k: 'sub' }, { t: ' [', up: true }, { t: 'MW' }, { t: '], ', up: true }, { t: '10', up: true }, { t: 'N' }, { t: '[', up: true }, { t: 'rps' }, { t: ']', up: true }],
  yTitleBase: 49, xTitleBase: 45,
};

function Panel({ cfg }: { cfg: PanelCfg }) {
  const ref = useRef<HTMLCanvasElement>(null);
  useEffect(() => {
    if (!ref.current) return;
    const chart = new Chart(ref.current, {
      type: 'line',
      data: { datasets: cfg.datasets() },
      options: buildOptions(cfg) as any,
      plugins: [decoPlugin(cfg)],
    });
    return () => chart.destroy();
  }, [cfg]);
  return (
    <canvas
      ref={ref}
      width={938}
      height={cfg.height}
      style={{ position: 'absolute', left: 0, top: cfg.top, width: 938, height: cfg.height, display: 'block' }}
    />
  );
}

export default function App() {
  return (
    <div style={{ position: 'absolute', left: 0, top: 0, width: 938, height: 749, background: '#fff', overflow: 'hidden' }}>
      <Panel cfg={panel1} />
      <Panel cfg={panel2} />
      <Panel cfg={panel3} />
    </div>
  );
}
